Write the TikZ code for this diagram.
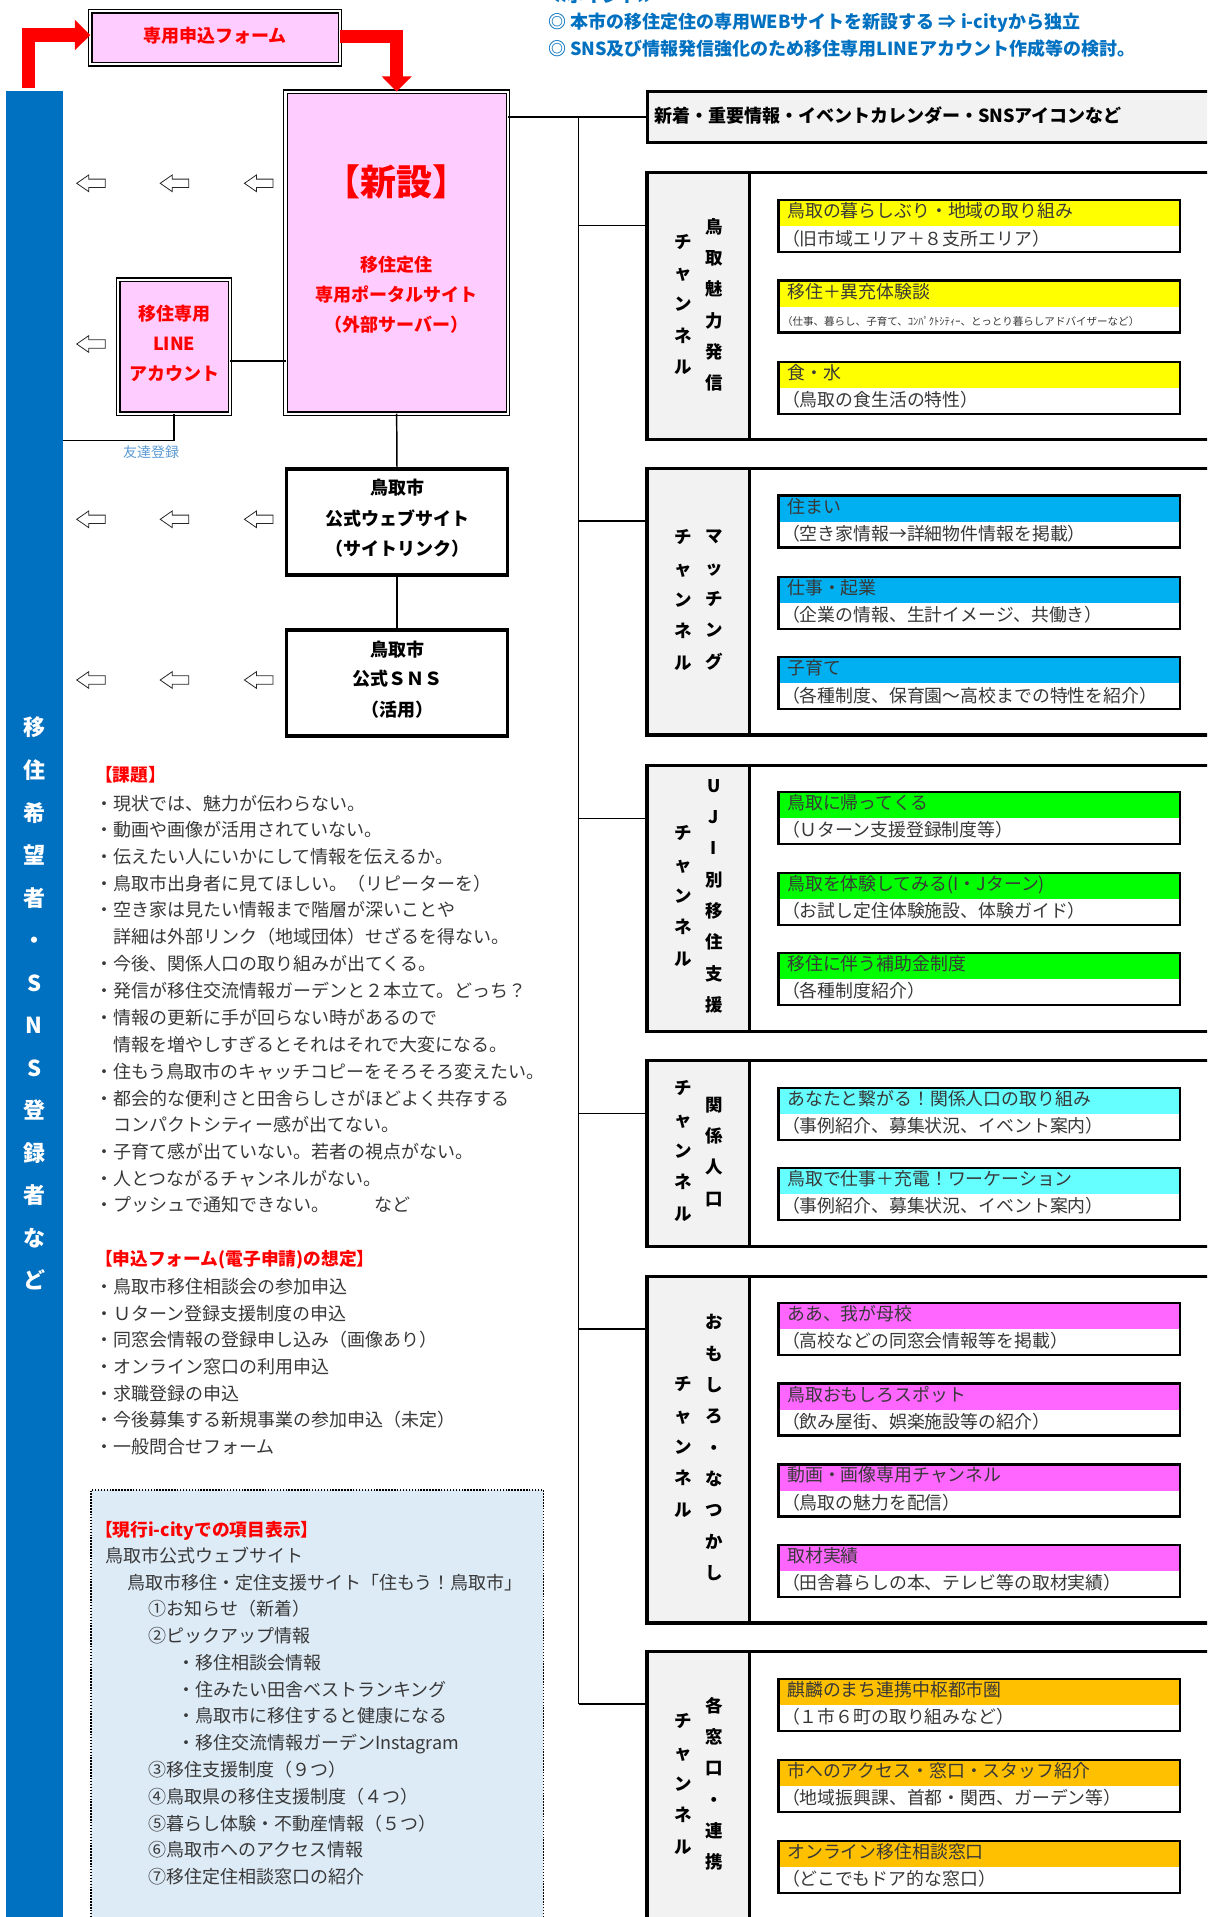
\documentclass[tikz,border=0pt]{standalone}
\usepackage{fontspec}
\setmainfont{Noto Sans CJK JP}
\usetikzlibrary{arrows.meta}
\definecolor{pinkfill}{HTML}{FFCCFF}
\definecolor{barblue}{HTML}{0070C0}
\definecolor{lightblue}{HTML}{5B9BD5}
\definecolor{panelgray}{HTML}{F2F2F2}
\definecolor{cyel}{HTML}{FFFF00}
\definecolor{csky}{HTML}{00B0F0}
\definecolor{cgreen}{HTML}{00FF00}
\definecolor{ccyan}{HTML}{66FFFF}
\definecolor{cmag}{HTML}{FF66FF}
\definecolor{corange}{HTML}{FFC000}
\definecolor{boxblue}{HTML}{DDEBF7}
\definecolor{txtgray}{HTML}{383838}
\definecolor{redc}{HTML}{FF0000}

\newcommand\chan[3]{%
  \node[chanbox, anchor=north west, minimum height=#3*0.75pt] (#1) at (647.2,#2) {};
  \draw[divline] ([xshift=76.8pt]#1.north west) -- ([xshift=76.8pt]#1.south west);
}
\newcommand\chitem[6][]{%
  \node[itembox=#4, anchor=north west] (#2) at (778.5,#3+1.15) {};
  \node[itemtxt] (#2h) at (787.3,#3+13.7) {#5};
  \node[itemtxt,#1] (#2s) at (782,#3+41) {#6};
}

\begin{document}
\begin{tikzpicture}[x=0.75pt,y=-0.75pt,
  tx/.style={inner sep=0pt,outer sep=0pt,text height=0.88em,text depth=0.12em},
  bodytxt/.style={tx,anchor=west,text=txtgray,font=\fontsize{13.5pt}{13.5pt}\selectfont},
  redhead/.style={tx,anchor=west,text=redc,font=\bfseries\fontsize{13.3pt}{13.3pt}\selectfont},
  bluehead/.style={tx,anchor=west,text=barblue,font=\bfseries\fontsize{13.5pt}{13.5pt}\selectfont},
  redbold/.style={tx,text=redc,font=\bfseries\fontsize{13.5pt}{13.5pt}\selectfont},
  blackbold/.style={tx,text=black,font=\bfseries\fontsize{13.5pt}{13.5pt}\selectfont},
  itemtxt/.style={tx,anchor=west,text=txtgray,font=\fontsize{13.4pt}{13.4pt}\selectfont},
  smallsub/.style={font=\fontsize{7.9pt}{7.9pt}\selectfont},
  chanlab/.style={inner sep=0pt,outer sep=0pt,align=center,text=black,font=\bfseries\fontsize{13.1pt}{23.5pt}\selectfont},
  pinkbox/.style={draw=black,line width=0.9pt,double=white,double distance=1.6pt,fill=pinkfill,outer sep=0pt,inner sep=0pt},
  plainbox/.style={draw=black,line width=2.6pt,fill=white,outer sep=0pt,inner sep=0pt,minimum width=165.4pt,minimum height=79.4pt},
  bannerbox/.style={draw=black,line width=2.6pt,fill=panelgray,outer sep=0pt,inner sep=0pt,minimum width=489.6pt,minimum height=37.9pt},
  chanbox/.style={draw=black,line width=2.6pt,outer sep=0pt,inner sep=0pt,minimum width=489.6pt,
    path picture={\fill[panelgray] (path picture bounding box.north west) rectangle ([xshift=76.8pt]path picture bounding box.south west);}},
  divline/.style={draw=black,line width=2.7pt},
  itembox/.style={draw=black,line width=1.7pt,outer sep=0pt,inner sep=0pt,minimum width=301.3pt,minimum height=39pt,
    path picture={\fill[#1] (path picture bounding box.north west) rectangle ([yshift=-19.6pt]path picture bounding box.north east);}},
  dotbox/.style={draw=black,fill=boxblue,line width=1.1pt,dash pattern=on 1.1pt off 1.1pt,outer sep=0pt,inner sep=0pt,minimum width=339.2pt,minimum height=375pt},
  conn/.style={draw=black,line width=1.1pt},
  redarrow/.style={draw=redc,line width=10pt,line join=miter,-{Triangle[width=22pt,length=11.5pt]}},
  hollow/.style={draw=black!85,line width=0.6pt,fill=white},
  harr/.pic={\draw[hollow] (-14.3,0) -- (-2.3,-8.3) -- (-2.3,-4.2) -- (14.3,-4.2) -- (14.3,4.2) -- (-2.3,4.2) -- (-2.3,8.3) -- cycle;}
]
\useasboundingbox (0,0) rectangle (1207,1917);
\clip (0,0) rectangle (1207,1917);
\fill[white] (0,0) rectangle (1207,1917);

% top notes
\node[bluehead] (pt0) at (548,-2.5) {≪ポイント≫};
\node[bluehead] (pt1) at (548,23.3) {◎ 本市の移住定住の専用WEBサイトを新設する ⇒ i-cityから独立};
\node[bluehead] (pt2) at (548,50.8) {◎ SNS及び情報発信強化のため移住専用LINEアカウント作成等の検討。};

% blue bar
\node[fill=barblue,inner sep=0pt,outer sep=0pt,minimum width=42.75pt,minimum height=1380pt,anchor=north west] (bluebar) at (6.1,91) {};
\node[inner sep=0pt,align=center,text=white,font=\bfseries\fontsize{16.5pt}{31.9pt}\selectfont] (bartxt) at (34.4,1003.8)
  {移\\住\\希\\望\\者\\・\\S\\N\\S\\登\\録\\者\\な\\ど};

% form box and portal
\node[pinkbox,minimum width=187.4pt,minimum height=39.8pt] (form) at (215.25,37.85) {};
\node[redbold] (formt) at (215.25,37.8) {専用申込フォーム};
\node[pinkbox,minimum width=166.7pt,minimum height=241.6pt] (portal) at (396.65,252.65) {};
\node[tx,text=redc,font=\bfseries\fontsize{27pt}{27pt}\selectfont] (newt) at (396.65,190) {【新設】};
\node[redbold] (pt_a) at (396.65,266.7) {移住定住};
\node[redbold] (pt_b) at (396.65,296.7) {専用ポータルサイト};
\node[redbold] (pt_c) at (396.65,326.7) {（外部サーバー）};

\node[pinkbox,minimum width=83.8pt,minimum height=100.6pt] (line) at (174.15,346.65) {};
\node[redbold] (ln_a) at (174.15,315.7) {移住専用};
\node[redbold] (ln_b) at (174.15,345) {LINE};
\node[redbold] (ln_c) at (174.15,375) {アカウント};

% red arrows
\coordinate (rs) at (28.3,88.3);
\draw[redarrow] (rs) |- ([yshift=2.1pt]form.west);
\draw[redarrow] ([yshift=0.8pt]form.east) -| (portal.north);

% website / sns
\node[plainbox] (web) at (397,522) {};
\node[blackbold] (wb_a) at (397,489.3) {鳥取市};
\node[blackbold] (wb_b) at (397,520) {公式ウェブサイト};
\node[blackbold] (wb_c) at (397,550) {（サイトリンク）};
\node[plainbox] (sns) at (397,683) {};
\node[blackbold] (sn_a) at (397,651.7) {鳥取市};
\node[blackbold] (sn_b) at (397,680.7) {公式ＳＮＳ};
\node[blackbold] (sn_c) at (397,711.7) {（活用）};

% connectors left part
\coordinate (lp) at (250,361);
\draw[conn] (line.east |- lp) -- (portal.west |- lp);
\coordinate (fr) at (100,440.7);
\draw[conn] (line.south) |- (bluebar.east |- fr);
\node[tx,text=lightblue,font=\fontsize{10.5pt}{10.5pt}\selectfont] (tomo) at (151,452.7) {友達登録};
\draw[conn] (portal.south) -- (web.north);
\draw[conn] (web.south) -- (sns.north);

% hollow arrows
\foreach \xx in {91,174.5,258.7}{
  \pic at (\xx,183.3) {harr};
  \pic at (\xx,519.3) {harr};
  \pic at (\xx,680) {harr};
}
\pic at (91,344) {harr};

% banner
\node[bannerbox,anchor=north west] (banner) at (647.25,91.75) {};
\node[tx,anchor=west,text=black,font=\bfseries\fontsize{13.5pt}{13.5pt}\selectfont] (bantxt) at (654,117) {新着・重要情報・イベントカレンダー・SNSアイコンなど};
\draw[conn] (portal.east |- banner.west) -- (banner.west);

% channels
\chan{ch1}{172.75}{266.5}
\chan{ch2}{468.45}{266.5}
\chan{ch3}{765.75}{265.8}
\chan{ch4}{1060.75}{185.8}
\chan{ch5}{1276.45}{346.3}
\chan{ch6}{1651.45}{320}

% trunk and branches
\coordinate (b1) at (578.5,225.3);
\coordinate (b2) at (578.5,521);
\coordinate (b3) at (578.5,818.3);
\coordinate (b4) at (578.5,1113.3);
\coordinate (b5) at (578.5,1329);
\coordinate (b6) at (578.5,1704);
\draw[conn] (b1 |- banner.west) -- (b6);
\draw[conn] (b1) -- (ch1.west |- b1);
\draw[conn] (b2) -- (ch2.west |- b2);
\draw[conn] (b3) -- (ch3.west |- b3);
\draw[conn] (b4) -- (ch4.west |- b4);
\draw[conn] (b5) -- (ch5.west |- b5);
\draw[conn] (b6) -- (ch6.west |- b6);

% channel labels
\node[chanlab] (l1a) at (683.4,304.2) {チ\\ャ\\ン\\ネ\\ル};
\node[chanlab] (l1b) at (714,304.7) {鳥\\取\\魅\\力\\発\\信};
\node[chanlab] (l2a) at (683.4,600) {チ\\ャ\\ン\\ネ\\ル};
\node[chanlab] (l2b) at (714,600) {マ\\ッ\\チ\\ン\\グ};
\node[chanlab] (l3a) at (683.4,895.8) {チ\\ャ\\ン\\ネ\\ル};
\node[chanlab] (l3b) at (714,896.3) {U\\J\\I\\別\\移\\住\\支\\援};
\node[chanlab] (l4a) at (683.4,1150.8) {チ\\ャ\\ン\\ネ\\ル};
\node[chanlab] (l4b) at (714,1151.7) {関\\係\\人\\口};
\node[chanlab] (l5a) at (683.4,1446.8) {チ\\ャ\\ン\\ネ\\ル};
\node[chanlab] (l5b) at (714,1447.5) {お\\も\\し\\ろ\\・\\な\\つ\\か\\し};
\node[chanlab] (l6a) at (683.4,1783.8) {チ\\ャ\\ン\\ネ\\ル};
\node[chanlab] (l6b) at (714,1783.8) {各\\窓\\口\\・\\連\\携};

% items
\chitem{i11}{199}{cyel}{鳥取の暮らしぶり・地域の取り組み}{（旧市域エリア＋８支所エリア）}
\chitem[smallsub]{i12}{279.3}{cyel}{移住＋異充体験談}{（仕事、暮らし、子育て、ｺﾝﾊﾟｸﾄｼﾃｨｰ、とっとり暮らしアドバイザーなど）}
\chitem{i13}{360.7}{cyel}{食・水}{（鳥取の食生活の特性）}
\chitem{i21}{494.3}{csky}{住まい}{（空き家情報→詳細物件情報を掲載）}
\chitem{i22}{575.7}{csky}{仕事・起業}{（企業の情報、生計イメージ、共働き）}
\chitem{i23}{656}{csky}{子育て}{（各種制度、保育園～高校までの特性を紹介）}
\chitem{i31}{790.7}{cgreen}{鳥取に帰ってくる}{（Ｕターン支援登録制度等）}
\chitem{i32}{871.7}{cgreen}{鳥取を体験してみる(I・Jターン)}{（お試し定住体験施設、体験ガイド）}
\chitem{i33}{951.7}{cgreen}{移住に伴う補助金制度}{（各種制度紹介）}
\chitem{i41}{1086.7}{ccyan}{あなたと繋がる！関係人口の取り組み}{（事例紹介、募集状況、イベント案内）}
\chitem{i42}{1166.7}{ccyan}{鳥取で仕事＋充電！ワーケーション}{（事例紹介、募集状況、イベント案内）}
\chitem{i51}{1301.9}{cmag}{ああ、我が母校}{（高校などの同窓会情報等を掲載）}
\chitem{i52}{1382.3}{cmag}{鳥取おもしろスポット}{（飲み屋街、娯楽施設等の紹介）}
\chitem{i53}{1463.2}{cmag}{動画・画像専用チャンネル}{（鳥取の魅力を配信）}
\chitem{i54}{1543.7}{cmag}{取材実績}{（田舎暮らしの本、テレビ等の取材実績）}
\chitem{i61}{1677.7}{corange}{麒麟のまち連携中枢都市圏}{（１市６町の取り組みなど）}
\chitem{i62}{1758.6}{corange}{市へのアクセス・窓口・スタッフ紹介}{（地域振興課、首都・関西、ガーデン等）}
\chitem{i63}{1839.5}{corange}{オンライン移住相談窓口}{（どこでもドア的な窓口）}

% issues
\node[redhead] (kh) at (95,776.7) {【課題】};
\node[bodytxt] (k1) at (95,805) {・現状では、魅力が伝わらない。};
\node[bodytxt] (k2) at (95,831.7) {・動画や画像が活用されていない。};
\node[bodytxt] (k3) at (95,858.3) {・伝えたい人にいかにして情報を伝えるか。};
\node[bodytxt] (k4) at (95,885) {・鳥取市出身者に見てほしい。（リピーターを）};
\node[bodytxt] (k5) at (95,911.7) {・空き家は見たい情報まで階層が深いことや};
\node[bodytxt] (k6) at (113,938.3) {詳細は外部リンク（地域団体）せざるを得ない。};
\node[bodytxt] (k7) at (95,965) {・今後、関係人口の取り組みが出てくる。};
\node[bodytxt] (k8) at (95,992.3) {・発信が移住交流情報ガーデンと２本立て。どっち？};
\node[bodytxt] (k9) at (95,1019.3) {・情報の更新に手が回らない時があるので};
\node[bodytxt] (k10) at (113,1046) {情報を増やしすぎるとそれはそれで大変になる。};
\node[bodytxt] (k11) at (95,1073.3) {・住もう鳥取市のキャッチコピーをそろそろ変えたい。};
\node[bodytxt] (k12) at (95,1100) {・都会的な便利さと田舎らしさがほどよく共存する};
\node[bodytxt] (k13) at (113,1126.7) {コンパクトシティー感が出てない。};
\node[bodytxt] (k14) at (95,1153.3) {・子育て感が出ていない。若者の視点がない。};
\node[bodytxt] (k15) at (95,1180) {・人とつながるチャンネルがない。};
\node[bodytxt] (k16) at (95,1206.7) {・プッシュで通知できない。\hspace{34pt}など};

% forms
\node[redhead] (mh) at (95,1260) {【申込フォーム(電子申請)の想定】};
\node[bodytxt] (m1) at (95,1288.3) {・鳥取市移住相談会の参加申込};
\node[bodytxt] (m2) at (95,1315) {・Ｕターン登録支援制度の申込};
\node[bodytxt] (m3) at (95,1341.7) {・同窓会情報の登録申し込み（画像あり）};
\node[bodytxt] (m4) at (95,1368.3) {・オンライン窓口の利用申込};
\node[bodytxt] (m5) at (95,1395) {・求職登録の申込};
\node[bodytxt] (m6) at (95,1421.7) {・今後募集する新規事業の参加申込（未定）};
\node[bodytxt] (m7) at (95,1448.3) {・一般問合せフォーム};

% current i-city box
\node[dotbox,anchor=north west] (cur) at (91,1490) {};
\node[redhead] (ch) at (95,1531.7) {【現行i-cityでの項目表示】};
\node[bodytxt] (c1) at (105,1557.3) {鳥取市公式ウェブサイト};
\node[bodytxt] (c2) at (127.5,1584.3) {鳥取市移住・定住支援サイト「住もう！鳥取市」};
\node[bodytxt] (c3) at (148.5,1610.7) {①お知らせ（新着）};
\node[bodytxt] (c4) at (148.5,1637.3) {②ピックアップ情報};
\node[bodytxt] (c5) at (177,1664.3) {・移住相談会情報};
\node[bodytxt] (c6) at (177,1691) {・住みたい田舎ベストランキング};
\node[bodytxt] (c7) at (177,1717.7) {・鳥取市に移住すると健康になる};
\node[bodytxt] (c8) at (177,1744.3) {・移住交流情報ガーデンInstagram};
\node[bodytxt] (c9) at (148.5,1771.7) {③移住支援制度（９つ）};
\node[bodytxt] (c10) at (148.5,1798.3) {④鳥取県の移住支援制度（４つ）};
\node[bodytxt] (c11) at (148.5,1825) {⑤暮らし体験・不動産情報（５つ）};
\node[bodytxt] (c12) at (148.5,1851.7) {⑥鳥取市へのアクセス情報};
\node[bodytxt] (c13) at (148.5,1878.3) {⑦移住定住相談窓口の紹介};
\end{tikzpicture}
\end{document}
